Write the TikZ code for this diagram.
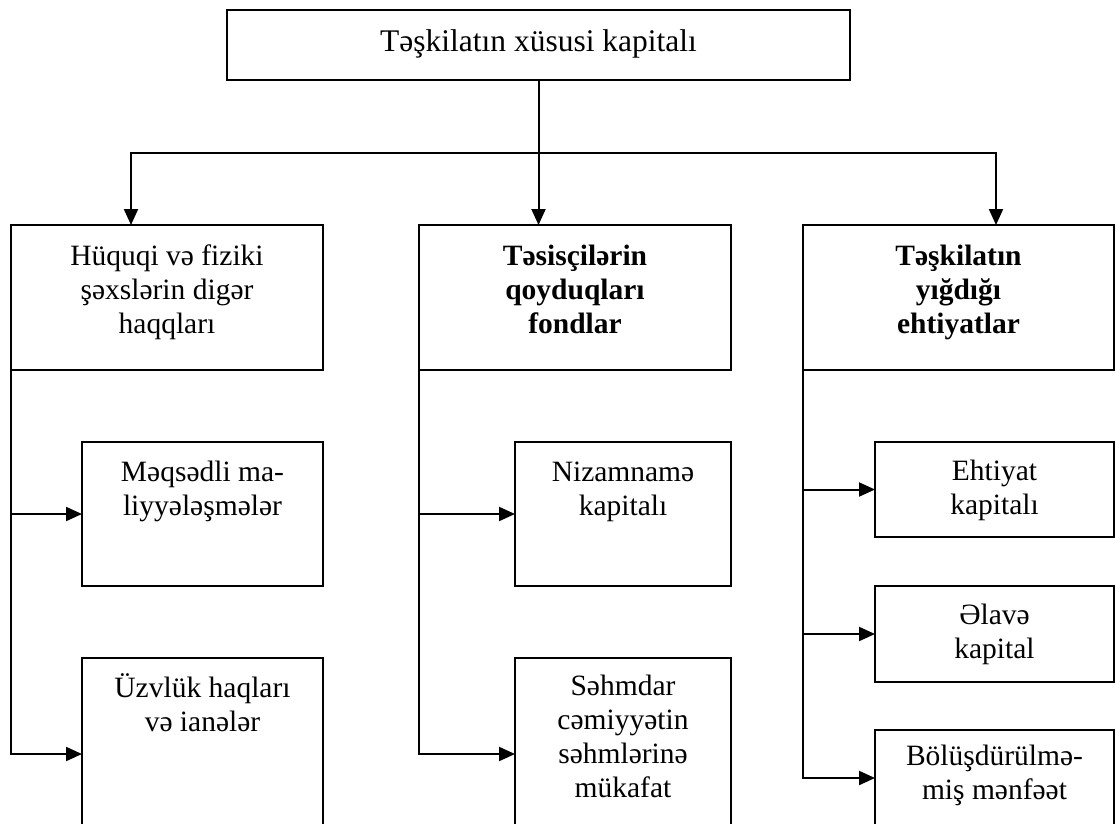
\documentclass[tikz,border=0pt]{standalone}
\usepackage{fontspec}
\setmainfont{Liberation Serif}
\usetikzlibrary{arrows.meta}
\newcommand\firstrut{\rule{0pt}{27pt}}
\begin{document}
\begin{tikzpicture}[x=1pt,y=-1pt,
  box/.style={draw, line width=2pt, outer sep=0pt, inner sep=0pt, anchor=north west},
  lbl/.style={anchor=north, align=center, inner sep=0pt, font=\fontsize{29.5}{34}\selectfont},
  lblb/.style={lbl, font=\fontsize{29.5}{34}\selectfont\bfseries},
  conn/.style={line width=2pt},
  arr/.style={conn, -{Triangle[length=16pt,width=14pt]}}]
\useasboundingbox (0,0) rectangle (1115,823);
\clip (0,0) rectangle (1115,823);

% boxes
\node[box, minimum width=623pt, minimum height=70pt] (top) at (227,10) {};
\node[box, minimum width=312pt, minimum height=145pt] (b1) at (11,225) {};
\node[box, minimum width=312pt, minimum height=145pt] (b2) at (419,225) {};
\node[box, minimum width=311pt, minimum height=145pt] (b3) at (803,225) {};
\node[box, minimum width=241pt, minimum height=144pt] (L1) at (82,442) {};
\node[box, minimum width=241pt, minimum height=192pt] (L2) at (82,658) {};
\node[box, minimum width=216pt, minimum height=144pt] (M1) at (515,442) {};
\node[box, minimum width=216pt, minimum height=192pt] (M2) at (515,658) {};
\node[box, minimum width=239pt, minimum height=95pt] (R1) at (875,442) {};
\node[box, minimum width=239pt, minimum height=96pt] (R2) at (875,586) {};
\node[box, minimum width=239pt, minimum height=96pt] (R3) at (875,730) {};

% texts
\node[inner sep=0pt, font=\fontsize{31.5}{36}\selectfont] (tt) at ([yshift=1pt]top.center) {Təşkilatın xüsusi kapitalı};
\node[lbl]  (tb1) at ([yshift=-13pt]b1.north) {\firstrut Hüquqi və fiziki\\şəxslərin digər\\haqqları};
\node[lblb] (tb2) at ([yshift=-13pt]b2.north) {\firstrut Təsisçilərin\\qoyduqları\\fondlar};
\node[lblb] (tb3) at ([yshift=-13pt]b3.north) {\firstrut Təşkilatın\\yığdığı\\ehtiyatlar};
\node[lbl]  (tL1) at ([yshift=-12pt]L1.north) {\firstrut Məqsədli ma-\\liyyələşmələr};
\node[lbl]  (tL2) at ([yshift=-12pt]L2.north) {\firstrut Üzvlük haqları\\və ianələr};
\node[lbl]  (tM1) at ([yshift=-12pt]M1.north) {\firstrut Nizamnamə\\kapitalı};
\node[lbl]  (tM2) at ([yshift=-10pt]M2.north) {\firstrut Səhmdar\\cəmiyyətin\\səhmlərinə\\mükafat};
\node[lbl]  (tR1) at ([yshift=-11pt]R1.north) {\firstrut Ehtiyat\\kapitalı};
\node[lbl]  (tR2) at ([yshift=-11pt]R2.north) {\firstrut Əlavə\\kapital};
\node[lbl]  (tR3) at ([yshift=-8pt]R3.north) {\firstrut Bölüşdürülmə-\\miş mənfəət};

% top connectors
\coordinate (j) at (top.south |- 0,153);
\coordinate (h1) at (131,153);
\coordinate (h3) at (996,153);
\draw[conn] (top.south) -- (j);
\draw[arr] (j) -| (h1 |- b1.north);
\draw[arr] (j) -| (h3 |- b3.north);
\draw[arr] (j) -- (j |- b2.north);

% side connectors
\draw[arr] (b1.south west) |- (L1.west);
\draw[arr] (b1.south west) |- (L2.west);
\draw[arr] (b2.south west) |- (M1.west);
\draw[arr] (b2.south west) |- (M2.west);
\draw[arr] (b3.south west) |- (R1.west);
\draw[arr] (b3.south west) |- (R2.west);
\draw[arr] (b3.south west) |- (R3.west);
\end{tikzpicture}
\end{document}
